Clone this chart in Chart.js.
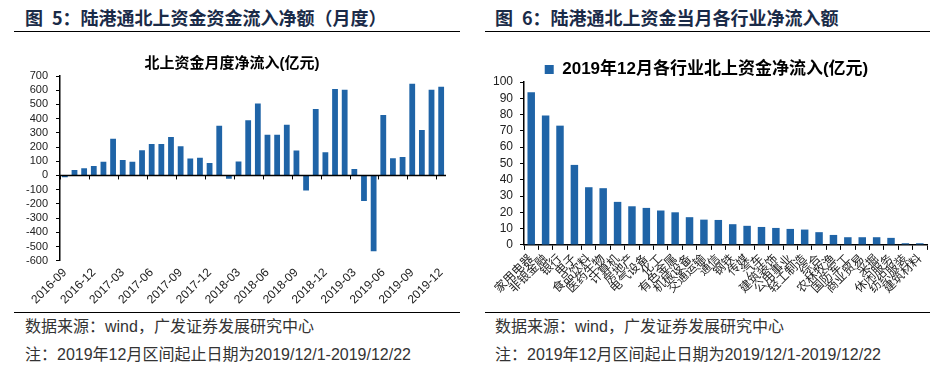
<!DOCTYPE html>
<html>
<head>
<meta charset="utf-8">
<script src="https://cdn.jsdelivr.net/npm/chart.js@4/dist/chart.umd.min.js"></script>
<style>
  body { margin: 0; width: 945px; height: 371px; background: #fff; position: relative; overflow: hidden;
         font-family: 'Liberation Sans', 'Noto Sans CJK SC', sans-serif; }
  .head { position: absolute; top: 5px; font-size: 18px; font-weight: bold; color: #1a2b48;
          font-family: 'Noto Sans CJK SC', sans-serif; line-height: 24px; white-space: nowrap; }
  .rule { position: absolute; height: 0; border-top: 1.5px solid #000; }
  .note { position: absolute; font-size: 16px; color: #333; line-height: 20px; white-space: nowrap;
          font-family: 'Liberation Sans', 'Noto Sans CJK SC', sans-serif; }
  .box { position: absolute; top: 40px; height: 272px; }
</style>
</head>
<body>
<div class="head" style="left:25px">图&ensp;5：陆港通北上资金资金流入净额（月度）</div>
<div class="head" style="left:495px">图&ensp;6：陆港通北上资金当月各行业净流入额</div>
<div class="rule" style="left:14px; width:446px; top:31px"></div>
<div class="rule" style="left:485px; width:445px; top:31px"></div>

<div class="box" style="left:0; width:470px"><canvas id="flowChart"></canvas></div>
<div class="box" style="left:470px; width:475px"><canvas id="sectorChart"></canvas></div>

<div class="rule" style="left:14px; width:446px; top:312px"></div>
<div class="rule" style="left:485px; width:445px; top:312px"></div>
<div class="note" style="left:25px; top:317px">数据来源：wind，广发证券发展研究中心</div>
<div class="note" style="left:25px; top:345px">注：2019年12月区间起止日期为2019/12/1-2019/12/22</div>
<div class="note" style="left:495px; top:317px">数据来源：wind，广发证券发展研究中心</div>
<div class="note" style="left:495px; top:345px">注：2019年12月区间起止日期为2019/12/1-2019/12/22</div>

<script>
// monthly northbound net inflow, 100m CNY
const months = [
    '2016-09', '2016-10', '2016-11', '2016-12', '2017-01', '2017-02', '2017-03', '2017-04',
    '2017-05', '2017-06', '2017-07', '2017-08', '2017-09', '2017-10', '2017-11', '2017-12',
    '2018-01', '2018-02', '2018-03', '2018-04', '2018-05', '2018-06', '2018-07', '2018-08',
    '2018-09', '2018-10', '2018-11', '2018-12', '2019-01', '2019-02', '2019-03', '2019-04',
    '2019-05', '2019-06', '2019-07', '2019-08', '2019-09', '2019-10', '2019-11', '2019-12'
];
const monthlyFlow = [
    -12, 38, 50, 66, 97, 258, 109, 97,
    177, 222, 222, 270, 206, 120, 125, 87,
    350, -24, 99, 388, 506, 286, 286, 357,
    175, -106, 468, 163, 608, 603, 45, -180,
    -534, 426, 121, 130, 645, 319, 603, 624
];

// December 2019 net inflow by industry
const sectors = [
    '家用电器', '非银金融', '银行', '电子', '食品饮料', '医药生物', '计算机', '房地产',
    '电气设备', '化工', '有色金属', '机械设备', '交通运输', '通信', '钢铁', '传媒',
    '汽车', '建筑装饰', '公用事业', '轻工制造', '综合', '农林牧渔', '国防军工', '商业贸易',
    '采掘', '休闲服务', '纺织服装', '建筑材料'
];
const sectorFlow = [
    93.7, 79.5, 73.2, 49.1, 35.4, 34.8, 26.4, 23.7,
    22.7, 21.1, 20.0, 17.0, 15.5, 15.3, 12.7, 11.7,
    11.0, 10.4, 9.8, 9.4, 7.8, 6.1, 4.7, 4.7,
    4.7, 4.3, 1.0, 1.0
];

const flowTicks = { min: -600, max: 700, step: 100 };
const sectorTicks = { min: 0, max: 100, step: 10 };

const BAR_COLOR = '#1f64a7';
const FONT = "'Liberation Sans', 'Noto Sans CJK SC', sans-serif";

Chart.defaults.font.family = FONT;
Chart.defaults.color = '#222';

// zero line with a tick mark every 3 months, like the excel axis crossing at 0
const zeroAxis = {
    id: 'zeroAxis',
    afterDatasetsDraw(chart) {
        const { ctx, chartArea, scales: { x, y } } = chart;
        const y0 = y.getPixelForValue(0);
        const half = (x.getPixelForValue(1) - x.getPixelForValue(0)) / 2;
        ctx.save();
        ctx.strokeStyle = '#000';
        ctx.lineWidth = 1.5;
        ctx.beginPath();
        ctx.moveTo(chartArea.left, y0);
        ctx.lineTo(chartArea.right, y0);
        ctx.stroke();
        ctx.lineWidth = 1;
        ctx.beginPath();
        for (let i = 0; i < months.length; i += 3) {
            const px = Math.round(x.getPixelForValue(i) - half) + 0.5;
            ctx.moveTo(px, y0);
            ctx.lineTo(px, y0 + 4);
        }
        ctx.stroke();
        ctx.restore();
    }
};

new Chart(document.getElementById('flowChart'), {
    type: 'bar',
    data: {
        labels: months,
        datasets: [{
            label: '北上资金月度净流入(亿元)',
            data: monthlyFlow,
            backgroundColor: BAR_COLOR,
            barPercentage: 0.6,
            categoryPercentage: 1
        }]
    },
    options: {
        responsive: true,
        maintainAspectRatio: false,
        animation: false,
        layout: { padding: { left: 18, right: 24, top: 0, bottom: 0 } },
        plugins: {
            legend: { display: false },
            tooltip: { enabled: false },
            title: {
                display: true,
                text: '北上资金月度净流入(亿元)',
                color: '#000',
                font: { size: 15, weight: 'bold', family: FONT },
                padding: { top: 15, bottom: 3 }
            }
        },
        scales: {
            x: {
                grid: { display: false, drawTicks: false },
                border: { display: false },
                ticks: {
                    autoSkip: false,
                    maxRotation: 45,
                    minRotation: 45,
                    padding: 5,
                    font: { size: 12 },
                    callback: (v, i) => i % 3 === 0 ? months[i] : ''
                }
            },
            y: {
                min: flowTicks.min,
                max: flowTicks.max,
                ticks: { stepSize: flowTicks.step, autoSkip: false, padding: 8, font: { size: 11, lineHeight: 1 } },
                grid: { drawOnChartArea: false, tickLength: 4, color: '#000' },
                border: { color: '#000', width: 1.5 }
            }
        }
    },
    plugins: [zeroAxis]
});

new Chart(document.getElementById('sectorChart'), {
    type: 'bar',
    data: {
        labels: sectors,
        datasets: [{
            label: '2019年12月各行业北上资金净流入(亿元)',
            data: sectorFlow,
            backgroundColor: BAR_COLOR,
            barPercentage: 0.52,
            categoryPercentage: 1
        }]
    },
    options: {
        responsive: true,
        maintainAspectRatio: false,
        animation: false,
        layout: { padding: { left: 16, right: 18, top: 18, bottom: 14 } },
        plugins: {
            tooltip: { enabled: false },
            legend: {
                maxHeight: 24,
                labels: {
                    boxWidth: 9,
                    boxHeight: 9,
                    color: '#000',
                    padding: 3,
                    font: { size: 17, weight: 'bold', family: FONT }
                }
            }
        },
        scales: {
            x: {
                grid: { drawOnChartArea: false, tickLength: 5, color: '#000', offset: true },
                border: { color: '#000', width: 1.5 },
                ticks: {
                    autoSkip: false,
                    maxRotation: 45,
                    minRotation: 45,
                    padding: 2,
                    font: { size: 12 }
                }
            },
            y: {
                min: sectorTicks.min,
                max: sectorTicks.max,
                ticks: { stepSize: sectorTicks.step, autoSkip: false, padding: 7, font: { size: 12, lineHeight: 1 } },
                grid: { drawOnChartArea: false, tickLength: 4, color: '#000' },
                border: { color: '#000', width: 1.5 }
            }
        }
    }
});
</script>
</body>
</html>
